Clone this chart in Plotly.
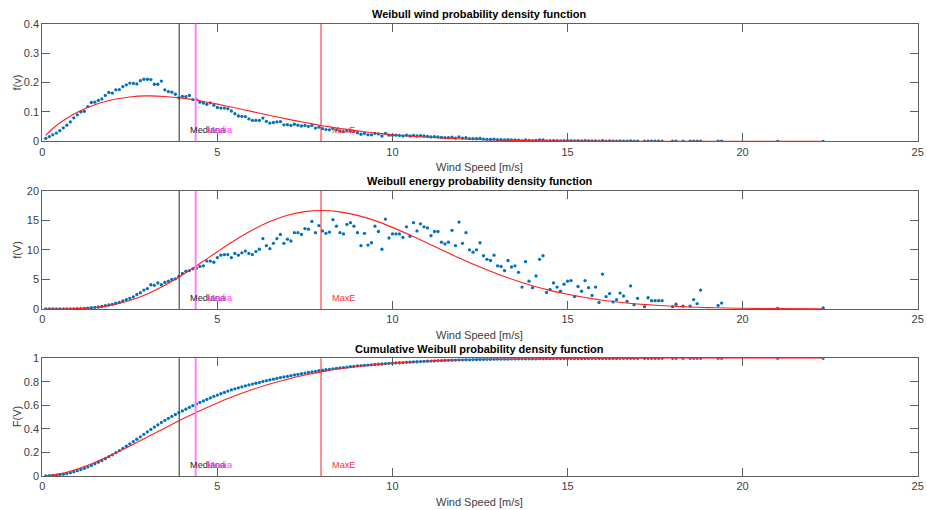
import plotly.graph_objects as go

# ---------------- data ----------------
wind_speed = [round(0.1 * i, 1) for i in range(1, 171)] + [
    17.2, 17.3, 17.4, 17.5, 17.6, 17.7,
    18.0, 18.1, 18.3, 18.5, 18.6, 18.7, 18.8,
    19.3, 19.4, 21.0, 22.3]

pdf_data = [
    0.010, 0.016, 0.022, 0.028, 0.036, 0.046, 0.055, 0.066, 0.080, 0.090,
    0.100, 0.102, 0.118, 0.132, 0.133, 0.139, 0.144, 0.156, 0.166, 0.164,
    0.175, 0.176, 0.186, 0.192, 0.198, 0.197, 0.195, 0.206, 0.211, 0.211,
    0.210, 0.194, 0.194, 0.205, 0.175, 0.169, 0.167, 0.160, 0.148, 0.153,
    0.152, 0.156, 0.142, 0.142, 0.133, 0.130, 0.126, 0.131, 0.123, 0.115,
    0.113, 0.113, 0.111, 0.103, 0.094, 0.086, 0.085, 0.084, 0.076, 0.071,
    0.071, 0.071, 0.079, 0.068, 0.062, 0.064, 0.066, 0.067, 0.056, 0.057,
    0.054, 0.058, 0.055, 0.052, 0.054, 0.051, 0.054, 0.045, 0.048, 0.043,
    0.040, 0.039, 0.044, 0.039, 0.035, 0.033, 0.036, 0.036, 0.033, 0.029,
    0.024, 0.027, 0.022, 0.022, 0.027, 0.025, 0.018, 0.027, 0.021, 0.021,
    0.021, 0.020, 0.018, 0.021, 0.018, 0.020, 0.018, 0.019, 0.018, 0.017,
    0.015, 0.016, 0.015, 0.013, 0.012, 0.012, 0.014, 0.011, 0.015, 0.011,
    0.012, 0.0092, 0.0086, 0.0087, 0.0096, 0.0075, 0.0068, 0.0065, 0.0071, 0.0055,
    0.0053, 0.0047, 0.0058, 0.0049, 0.0049, 0.0041, 0.0024, 0.0051, 0.0029, 0.0022,
    0.0033, 0.0049, 0.0051, 0.0016, 0.0018, 0.0024, 0.0019, 0.0015, 0.0021, 0.0023,
    0.0023, 0.0010, 0.0018, 0.0014, 0.0021, 0.0016, 0.0010, 0.0016, 0.0005, 0.0024,
    0.0008, 0.0010, 0.0005, 0.0006, 0.0010, 0.0008, 0.0005, 0.0014, 0.0002, 0.0006,
    0.0001, 0.0006, 0.0004, 0.0004, 0.0004, 0.0004,
    0.0001, 0.0002, 0.0001, 0.0001, 0.0004, 0.0002, 0.0008,
    0.0001, 0.0002, 0.00002, 0.00003]

energy_data = [
    0.0, 0.0, 0.0, 0.001, 0.003, 0.006, 0.011, 0.020, 0.035, 0.054,
    0.08, 0.106, 0.155, 0.22, 0.27, 0.34, 0.42, 0.55, 0.68, 0.79,
    0.97, 1.12, 1.36, 1.59, 1.80, 2.05, 2.45, 2.75, 3.2, 3.45,
    4.1, 4.0, 4.4, 4.1, 4.5, 4.7, 5.0, 5.1, 5.5, 6.0,
    6.4, 6.5, 6.8, 6.9, 7.2, 7.3, 8.1, 8.1, 7.9, 8.7,
    9.1, 9.2, 9.2, 8.7, 9.4, 9.1, 9.5, 9.8, 9.4, 9.2,
    9.7, 10.1, 11.9, 10.7, 10.2, 11.1, 11.9, 12.6, 11.1, 11.8,
    11.5, 12.9, 12.9, 12.6, 13.6, 13.5, 14.8, 12.9, 14.1, 13.2,
    12.8, 13.0, 15.1, 14.0, 12.9, 12.7, 14.3, 14.6, 14.0, 12.9,
    10.7, 12.8, 10.8, 11.2, 14.0, 13.1, 10.1, 15.2, 12.0, 12.7,
    12.7, 12.7, 12.1, 13.9, 12.3, 14.6, 13.2, 14.4, 13.9, 13.7,
    12.4, 13.1, 13.1, 11.3, 11.0, 11.3, 13.3, 10.7, 14.7, 11.1,
    12.9, 10.0, 9.6, 10.0, 11.2, 9.0, 8.4, 8.2, 9.1, 7.3,
    7.2, 6.5, 8.2, 7.1, 7.3, 6.2, 3.7, 8.0, 4.7, 3.6,
    5.6, 8.4, 9.0, 2.8, 3.3, 4.4, 3.7, 3.0, 4.2, 4.7,
    4.8, 2.1, 3.8, 3.0, 4.8, 3.6, 2.3, 3.7, 1.1, 5.9,
    2.1, 2.6, 1.2, 1.6, 2.7, 2.2, 1.3, 3.9, 0.7, 1.8,
    0.4, 1.9, 1.4, 1.4, 1.4, 1.4,
    0.4, 0.8, 0.5, 0.5, 1.6, 0.9, 3.2,
    0.6, 1.0, 0.1, 0.2]

cdf_data = [
    .0010, .0026, .0048, .0076, .0112, .0158, .0213, .0279, .0359, .0449,
    .0549, .0651, .0769, .0901, .1034, .1173, .1317, .1473, .1639, .1803,
    .1978, .2154, .2340, .2532, .2730, .2927, .3122, .3328, .3539, .3750,
    .3960, .4154, .4348, .4553, .4728, .4897, .5064, .5224, .5372, .5525,
    .5677, .5833, .5975, .6117, .6250, .6380, .6506, .6637, .6760, .6875,
    .6988, .7101, .7212, .7315, .7409, .7495, .7580, .7664, .7740, .7811,
    .7882, .7953, .8032, .8100, .8162, .8226, .8292, .8359, .8415, .8472,
    .8526, .8584, .8639, .8691, .8745, .8796, .8850, .8895, .8943, .8986,
    .9026, .9065, .9109, .9148, .9183, .9216, .9252, .9288, .9321, .9350,
    .9374, .9401, .9423, .9445, .9472, .9497, .9515, .9542, .9563, .9584,
    .9603, .9621, .9637, .9656, .9672, .9690, .9706, .9723, .9739, .9754,
    .9767, .9781, .9794, .9805, .9815, .9825, .9837, .9846, .9858, .9867,
    .9877, .9884, .9891, .9898, .9905, .9911, .9916, .9921, .9926, .9930,
    .9934, .9938, .9942, .9946, .9949, .9952, .9954, .9957, .9959, .9961,
    .9963, .9966, .9969, .9970, .9971, .9973, .9974, .9975, .9977, .9978,
    .9980, .9981, .9982, .9983, .9985, .9986, .9987, .9988, .9988, .9990,
    .9991, .9992, .9992, .9993, .9994, .9994, .9995, .9996, .9996, .9997,
    .9997, .9997, .9998, .9998, .9998, .9999,
    .9999, .9999, .9999, .9999, .9999, .9999, 1.0,
    1.0, 1.0, 1.0, 1.0]

fit_speed = [0.1, 0.25, 0.5, 0.75, 1.0, 1.5, 2.0, 2.5, 3.0, 3.5, 4.0, 4.5, 5.0,
             5.5, 6.0, 6.5, 7.0, 7.5, 8.0, 8.5, 9.0, 9.5, 10.0, 10.5, 11.0,
             11.5, 12.0, 12.5, 13.0, 13.5, 14.0, 14.5, 15.0, 15.5, 16.0, 16.5,
             17.0, 17.5, 18.0, 18.5, 19.0, 19.5, 20.0, 21.0, 22.3]
fit_pdf = [0.0199, 0.0384, 0.0624, 0.0820, 0.0985, 0.1241, 0.1411, 0.1509,
           0.1544, 0.1526, 0.1467, 0.1377, 0.1265, 0.1140, 0.1009, 0.0879,
           0.0754, 0.0637, 0.0531, 0.04365, 0.03545, 0.02844, 0.02253, 0.01763,
           0.01365, 0.01045, 0.00791, 0.00593, 0.0044, 0.00323, 0.002346,
           0.001688, 0.001201, 0.000848, 0.000593, 0.000411, 0.000282,
           0.0001915, 0.0001292, 0.0000861, 0.000057, 0.0000373, 0.0000243,
           0.00001, 0.000003]
fit_energy = [0.0, 0.0004, 0.0048, 0.0212, 0.0603, 0.2565, 0.6914, 1.444, 2.553,
              4.007, 5.751, 7.686, 9.685, 11.617, 13.35, 14.786, 15.84, 16.46,
              16.65, 16.42, 15.83, 14.94, 13.80, 12.50, 11.13, 9.735, 8.37, 7.09,
              5.92, 4.87, 3.94, 3.15, 2.48, 1.934, 1.488, 1.131, 0.849, 0.629,
              0.4615, 0.334, 0.2395, 0.1695, 0.119, 0.057, 0.020]
fit_cdf = [0.0012, 0.0056, 0.0183, 0.0364, 0.0591, 0.1151, 0.1817, 0.2550, 0.3315,
           0.4085, 0.4835, 0.5547, 0.6208, 0.6809, 0.7347, 0.7819, 0.8227, 0.8574,
           0.8865, 0.9107, 0.9304, 0.9463, 0.959, 0.969, 0.9768, 0.9828, 0.9874,
           0.9908, 0.9934, 0.9953, 0.99665, 0.99765, 0.99837, 0.99887, 0.99923,
           0.99948, 0.99965, 0.99977, 0.99985, 0.9999, 0.99994, 0.99996, 0.99997,
           0.99999, 1.0]

median_speed = 3.91
mean_speed = 4.38
maxe_speed = 7.96

titles = ["Weibull wind probability density function",
          "Weibull energy probability density function",
          "Cumulative Weibull probability density function"]
ylabels = ["f(v)", "f(V)", "F(V)"]
xlabel = "Wind Speed [m/s]"
x_ticks = [0, 5, 10, 15, 20, 25]
y_ranges = [[0, 0.4], [0, 20], [0, 1]]
y_ticks = [[0, 0.1, 0.2, 0.3, 0.4], [0, 5, 10, 15, 20], [0, 0.2, 0.4, 0.6, 0.8, 1]]
y_ticktext = [["0", "0.1", "0.2", "0.3", "0.4"], ["0", "5", "10", "15", "20"],
              ["0", "0.2", "0.4", "0.6", "0.8", "1"]]
label_y = [0.037, 1.9, 0.09]

# ---------------- layout geometry ----------------
W, H = 927, 510
XL, XR = 42.3, 917.7
panels_px = [(23.7, 141.3), (190.7, 309.0), (358.3, 476.0)]
FONT = "Liberation Sans, Arial, Helvetica, sans-serif"
AX_COL = "#5f5f5f"
TXT_COL = "#404040"
BLUE = "#0072BD"
RED = "#ff2020"

fig = go.Figure()
series = [(pdf_data, fit_pdf), (energy_data, fit_energy), (cdf_data, fit_cdf)]
layout = dict(width=W, height=H,
              margin=dict(l=0, r=0, t=0, b=0, pad=0, autoexpand=False),
              paper_bgcolor="white", plot_bgcolor="white", showlegend=False,
              font=dict(family=FONT, size=11, color=TXT_COL))
shapes, annotations = [], []
cx = (XL + XR) / 2 / W

for i, (data_vals, fit_vals) in enumerate(series):
    n = "" if i == 0 else str(i + 1)
    xa, ya = "x" + n, "y" + n
    top, bot = panels_px[i]
    fig.add_trace(go.Scatter(x=wind_speed, y=data_vals, mode="markers",
                             marker=dict(color=BLUE, size=3.3, line=dict(width=0)),
                             xaxis=xa, yaxis=ya, cliponaxis=True))
    fig.add_trace(go.Scatter(x=fit_speed, y=fit_vals, mode="lines",
                             line=dict(color=RED, width=1.1, shape="spline", smoothing=0.8),
                             xaxis=xa, yaxis=ya))
    layout["xaxis" + n] = dict(domain=[XL / W, XR / W], anchor=ya, range=[0, 25],
                               tickvals=x_ticks, ticks="inside", ticklen=8,
                               tickcolor=AX_COL, showline=True, linecolor=AX_COL,
                               linewidth=1, mirror="ticks", showgrid=False,
                               zeroline=False, automargin=False,
                               tickfont=dict(size=11, color=TXT_COL))
    layout["yaxis" + n] = dict(domain=[1 - bot / H, 1 - top / H], anchor=xa,
                               range=y_ranges[i], tickvals=y_ticks[i],
                               ticktext=y_ticktext[i], ticks="inside", ticklen=8,
                               tickcolor=AX_COL, showline=True, linecolor=AX_COL,
                               linewidth=1, mirror="ticks", showgrid=False,
                               zeroline=False, automargin=False,
                               tickfont=dict(size=11, color=TXT_COL))
    yd = ya + " domain"
    for xv, col, wd in [(median_speed, "#4a4a4a", 1.2), (mean_speed, "#ff80ff", 2),
                        (maxe_speed, "#ff3030", 1.1)]:
        shapes.append(dict(type="line", xref=xa, yref=yd, x0=xv, x1=xv, y0=0, y1=1,
                           line=dict(color=col, width=wd), layer="above"))
    for txt, xv, col in [("Mediana", median_speed, "#262626"),
                         ("Media", mean_speed, "#ff33ff"),
                         ("MaxE", maxe_speed, "#ff3030")]:
        annotations.append(dict(text=txt, xref=xa, yref=ya, x=xv + 0.26, y=label_y[i],
                                xanchor="left", yanchor="middle", showarrow=False,
                                font=dict(size=9.2, color=col)))
    # title
    annotations.append(dict(text="<b>" + titles[i] + "</b>", xref="paper", yref="paper",
                            x=cx, y=1 - (top - 9.5) / H, xanchor="center",
                            yanchor="middle", showarrow=False,
                            font=dict(size=11, color="#000000")))
    # x label
    annotations.append(dict(text=xlabel, xref="paper", yref="paper", x=cx,
                            y=1 - (bot + 25.7) / H, xanchor="center", yanchor="middle",
                            showarrow=False, font=dict(size=11, color=TXT_COL)))
    # y label
    annotations.append(dict(text=ylabels[i], xref="paper", yref="paper", x=17 / W,
                            y=1 - (top + bot) / 2 / H, xanchor="center",
                            yanchor="middle", textangle=-90, showarrow=False,
                            font=dict(size=11, color=TXT_COL)))

layout["shapes"] = shapes
layout["annotations"] = annotations
fig.update_layout(**layout)
fig.write_html("out.html", config={"displayModeBar": False},
               post_script="document.body.style.margin='0';")
